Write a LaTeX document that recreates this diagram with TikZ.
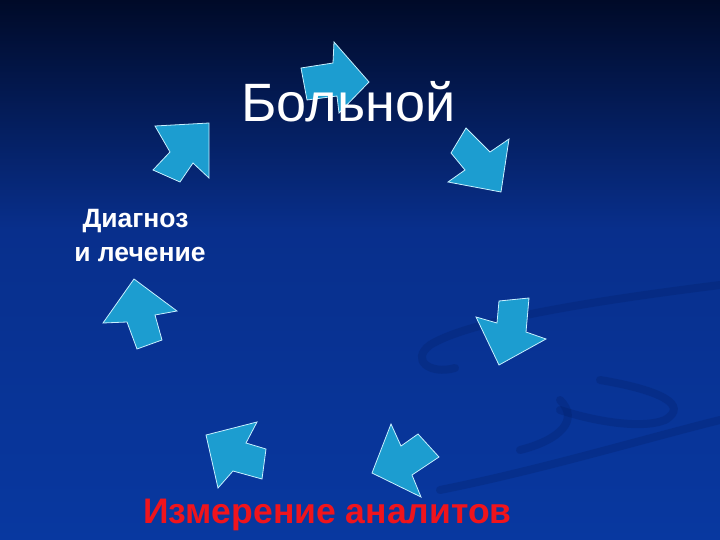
\documentclass[tikz,border=0pt]{standalone}
\usepackage{fontspec}
\setmainfont{Liberation Sans}
\begin{document}
\begin{tikzpicture}[x=1pt,y=-1pt,
  cyc/.style={fill=arrowfill,draw=arrowedge,line width=0.8pt,line join=miter},
  swirl/.style={draw=swirlcol,line width=8pt,line cap=round,opacity=0.28},
  bigtxt/.style={text=white,font=\fontsize{54}{60}\selectfont,inner sep=0pt},
  sidetxt/.style={text=white,font=\bfseries\fontsize{26.5}{33}\selectfont,inner sep=0pt,align=center},
  redtxt/.style={text=measred,font=\bfseries\fontsize{35.5}{40}\selectfont,inner sep=0pt}]
\definecolor{bgtop}{HTML}{000A28}
\definecolor{bgmid}{HTML}{082F8C}
\definecolor{bgbot}{HTML}{0838A0}
\definecolor{arrowfill}{HTML}{1C9DD0}
\definecolor{arrowedge}{HTML}{C8F0FF}
\definecolor{swirlcol}{HTML}{021E66}
\definecolor{measred}{HTML}{F0141C}
\useasboundingbox (0,0) rectangle (720,540);
% background
\shade[top color=bgtop,bottom color=bgmid] (0,0) rectangle (720,230);
\shade[top color=bgmid,bottom color=bgbot] (0,230) rectangle (720,540);
% faint swirls
\draw[swirl] (720,285) .. controls (600,300) and (470,320) .. (430,345) .. controls (410,360) and (430,375) .. (455,368);
\draw[swirl] (720,420) .. controls (640,440) and (540,470) .. (440,490);
\draw[swirl] (600,380) .. controls (660,390) and (690,405) .. (665,420) .. controls (640,430) and (590,420) .. (560,410);
\draw[swirl] (560,400) .. controls (580,420) and (560,440) .. (520,450);
% arrows
\draw[cyc] (301,68) -- (333,63) -- (334,42) -- (369,82) -- (339,113) -- (337,96) -- (307,100) -- cycle;
\draw[cyc] (466,128) -- (490,152) -- (509,139) -- (501,192) -- (448,182) -- (465,170) -- (451,153) -- cycle;
\draw[cyc] (499,301) -- (529,298) -- (526,332) -- (546,339) -- (499,365) -- (476,317) -- (497,323) -- cycle;
\draw[cyc] (391,424) -- (401,446) -- (418,434) -- (439,457) -- (412,475) -- (421,497) -- (372,473) -- cycle;
\draw[cyc] (206,435) -- (257,422) -- (246,443) -- (266,449) -- (262,479) -- (233,471) -- (218,488) -- cycle;
\draw[cyc] (134,279) -- (177,311) -- (155,315) -- (162,340) -- (137,349) -- (127,322) -- (103,323) -- cycle;
\draw[cyc] (209,123) -- (209,178) -- (193,163) -- (180,182) -- (153,170) -- (170,152) -- (155,126) -- cycle;
% texts
\node[bigtxt,anchor=base] (patient) at (348.5,122) {Больной};
\node[sidetxt,anchor=base] (diag1) at (135.5,228) {Диагноз};
\node[sidetxt,anchor=base] (diag2) at (140,261) {и лечение};
\node[redtxt,anchor=base] (meas) at (327.5,523) {Измерение аналитов};
\end{tikzpicture}
\end{document}
